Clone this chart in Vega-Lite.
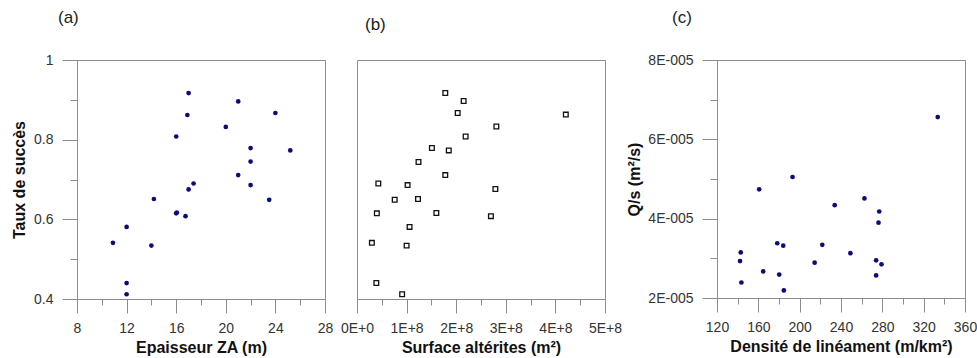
{
  "$schema": "https://vega.github.io/schema/vega-lite/v6.json",
  "background": "white",
  "padding": {"left": 11, "top": 8, "right": 0, "bottom": 0},
  "config": {
    "font": "Liberation Sans",
    "view": {"stroke": "#8c8c8c", "strokeWidth": 1},
    "axis": {
      "domainColor": "#8c8c8c", "tickColor": "#8c8c8c", "grid": false,
      "labelColor": "#333333", "labelFontSize": 14, "labelFont": "Liberation Sans",
      "titleFontSize": 16, "titleFontWeight": "bold", "titleColor": "#111111", "titleFont": "Liberation Sans"
    },
    "title": {"fontSize": 17, "fontWeight": "normal", "anchor": "start", "frame": "group", "color": "#222222", "font": "Liberation Sans"}
  },
  "spacing": 32,
  "bounds": "flush",
  "hconcat": [
    {
      "title": {"text": "(a)", "dx": -19, "offset": 26},
      "width": 248, "height": 239,
      "data": {"values": [
        {"epaisseur": 17, "taux": 0.917}, {"epaisseur": 21, "taux": 0.896}, {"epaisseur": 16.9, "taux": 0.862},
        {"epaisseur": 24, "taux": 0.867}, {"epaisseur": 20, "taux": 0.832}, {"epaisseur": 16, "taux": 0.808},
        {"epaisseur": 22, "taux": 0.779}, {"epaisseur": 25.2, "taux": 0.773}, {"epaisseur": 22, "taux": 0.745},
        {"epaisseur": 21, "taux": 0.711}, {"epaisseur": 22, "taux": 0.686}, {"epaisseur": 17.4, "taux": 0.690},
        {"epaisseur": 17, "taux": 0.675}, {"epaisseur": 14.2, "taux": 0.651}, {"epaisseur": 23.5, "taux": 0.649},
        {"epaisseur": 16, "taux": 0.615}, {"epaisseur": 16.05, "taux": 0.617}, {"epaisseur": 16.75, "taux": 0.608},
        {"epaisseur": 12, "taux": 0.581}, {"epaisseur": 10.9, "taux": 0.541}, {"epaisseur": 14, "taux": 0.534},
        {"epaisseur": 12, "taux": 0.440}, {"epaisseur": 12, "taux": 0.412}
      ]},
      "mark": {"type": "circle", "size": 22, "color": "#0c0c78", "opacity": 1},
      "encoding": {
        "x": {
          "field": "epaisseur", "type": "quantitative",
          "scale": {"domain": [8, 28], "nice": false, "zero": false},
          "axis": {
            "title": "Epaisseur ZA (m)",
            "values": [8, 10, 12, 14, 16, 18, 20, 22, 24, 26, 28],
            "tickSize": {"condition": {"test": "datum.value % 4 == 0", "value": 14}, "value": 6},
            "labelExpr": "datum.value % 4 == 0 ? datum.label : ''",
            "labelPadding": 8, "titlePadding": 4, "labelFlush": false, "labelOverlap": false
          }
        },
        "y": {
          "field": "taux", "type": "quantitative",
          "scale": {"domain": [0.4, 1], "nice": false, "zero": false},
          "axis": {
            "title": "Taux de succès",
            "values": [0.4, 0.5, 0.6, 0.7, 0.8, 0.9, 1],
            "tickSize": {"condition": {"test": "round(datum.value*10) % 2 == 0", "value": 15}, "value": 7},
            "labelExpr": "round(datum.value*10) % 2 == 0 ? format(datum.value, '') : ''",
            "labelPadding": 9, "titlePadding": 6, "labelFlush": false, "labelOverlap": false
          }
        }
      }
    },
    {
      "title": {"text": "(b)", "dx": 8, "offset": 26},
      "width": 248, "height": 239,
      "data": {"values": [
        {"surface": 178000000, "taux": 0.917}, {"surface": 215000000, "taux": 0.897}, {"surface": 203000000, "taux": 0.867},
        {"surface": 421000000, "taux": 0.863}, {"surface": 281000000, "taux": 0.833}, {"surface": 219000000, "taux": 0.808},
        {"surface": 151000000, "taux": 0.779}, {"surface": 185000000, "taux": 0.773}, {"surface": 124000000, "taux": 0.744},
        {"surface": 178000000, "taux": 0.711}, {"surface": 43000000, "taux": 0.690}, {"surface": 102000000, "taux": 0.686},
        {"surface": 279000000, "taux": 0.676}, {"surface": 76000000, "taux": 0.649}, {"surface": 123000000, "taux": 0.651},
        {"surface": 40000000, "taux": 0.615}, {"surface": 160000000, "taux": 0.616}, {"surface": 270000000, "taux": 0.608},
        {"surface": 106000000, "taux": 0.581}, {"surface": 30000000, "taux": 0.541}, {"surface": 100000000, "taux": 0.534},
        {"surface": 39000000, "taux": 0.440}, {"surface": 91000000, "taux": 0.412}
      ]},
      "mark": {"type": "square", "size": 22, "filled": false, "stroke": "#111111", "strokeWidth": 1.3, "opacity": 1},
      "encoding": {
        "x": {
          "field": "surface", "type": "quantitative",
          "scale": {"domain": [0, 500000000], "nice": false, "zero": false},
          "axis": {
            "title": "Surface altérites (m²)",
            "values": [0, 50000000, 100000000, 150000000, 200000000, 250000000, 300000000, 350000000, 400000000, 450000000, 500000000],
            "tickSize": {"condition": {"test": "datum.value % 100000000 == 0", "value": 14}, "value": 6},
            "labelExpr": "datum.value % 100000000 == 0 ? (datum.value / 100000000) + 'E+' + (datum.value == 0 ? '0' : '8') : ''",
            "labelPadding": 8, "titlePadding": 4, "labelFlush": false, "labelOverlap": false
          }
        },
        "y": {
          "field": "taux", "type": "quantitative",
          "scale": {"domain": [0.4, 1], "nice": false, "zero": false},
          "axis": null
        }
      }
    },
    {
      "width": 48, "height": 239,
      "view": {"stroke": null},
      "data": {"values": [{"v": 0}]},
      "mark": {"type": "point", "opacity": 0},
      "encoding": {}
    },
    {
      "title": {"text": "(c)", "dx": -45, "offset": 26},
      "width": 248, "height": 238,
      "data": {"values": [
        {"densite": 333.6, "qs": 6.56e-5}, {"densite": 193.1, "qs": 5.05e-5}, {"densite": 160.8, "qs": 4.74e-5},
        {"densite": 262.7, "qs": 4.51e-5}, {"densite": 233.9, "qs": 4.34e-5}, {"densite": 277, "qs": 4.18e-5},
        {"densite": 276.3, "qs": 3.90e-5}, {"densite": 178.3, "qs": 3.38e-5}, {"densite": 184.1, "qs": 3.32e-5},
        {"densite": 221.9, "qs": 3.34e-5}, {"densite": 143, "qs": 3.15e-5}, {"densite": 249.1, "qs": 3.13e-5},
        {"densite": 142.3, "qs": 2.93e-5}, {"densite": 214.5, "qs": 2.89e-5}, {"densite": 274, "qs": 2.95e-5},
        {"densite": 279.2, "qs": 2.85e-5}, {"densite": 164.7, "qs": 2.67e-5}, {"densite": 180.2, "qs": 2.59e-5},
        {"densite": 274, "qs": 2.57e-5}, {"densite": 143.6, "qs": 2.39e-5}, {"densite": 184.7, "qs": 2.19e-5}
      ]},
      "mark": {"type": "circle", "size": 22, "color": "#0c0c78", "opacity": 1},
      "encoding": {
        "x": {
          "field": "densite", "type": "quantitative",
          "scale": {"domain": [120, 360], "nice": false, "zero": false},
          "axis": {
            "title": "Densité de linéament (m/km²)",
            "values": [120, 140, 160, 180, 200, 220, 240, 260, 280, 300, 320, 340, 360],
            "tickSize": {"condition": {"test": "(datum.value - 120) % 40 == 0", "value": 14}, "value": 6},
            "labelExpr": "(datum.value - 120) % 40 == 0 ? datum.label : ''",
            "labelPadding": 8, "titlePadding": 4, "labelFlush": false, "labelOverlap": false
          }
        },
        "y": {
          "field": "qs", "type": "quantitative",
          "scale": {"domain": [0.00002, 0.00008], "nice": false, "zero": false},
          "axis": {
            "title": "Q/s (m²/s)",
            "values": [0.00002, 0.00003, 0.00004, 0.00005, 0.00006, 0.00007, 0.00008],
            "tickSize": {"condition": {"test": "round(datum.value*100000) % 2 == 0", "value": 15}, "value": 7},
            "labelExpr": "round(datum.value*100000) % 2 == 0 ? round(datum.value*100000) + 'E-005' : ''",
            "labelPadding": 9, "titlePadding": 5, "labelFlush": false, "labelOverlap": false
          }
        }
      }
    }
  ]
}
